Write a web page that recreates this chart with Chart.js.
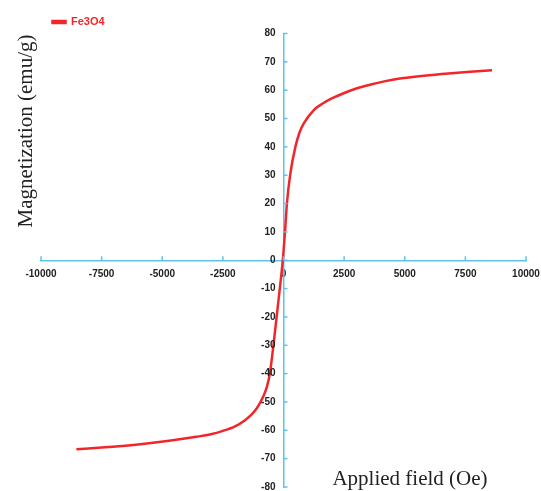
<!DOCTYPE html>
<html>
<head>
<meta charset="utf-8">
<script src="https://cdn.jsdelivr.net/npm/chart.js@4"></script>
<style>
  html, body { margin: 0; padding: 0; background: #ffffff; }
  #wrap { width: 541px; height: 491px; position: relative; }
</style>
</head>
<body>
<div id="wrap"><canvas id="c"></canvas></div>
<script>
const seriesName = 'Fe3O4';
const fieldOe = [-8540, -7500, -6000, -4720, -3600, -3000, -2500, -2000, -1600, -1390, -1100, -830, -680, -555, -420, -280, -150, -70, 0, 70, 140, 280, 490, 650, 830, 1250, 1600, 1950, 2500, 3000, 3600, 4200, 4800, 5800, 6800, 7700, 8600];
const magnetization = [-66.7, -66.1, -65.0, -63.7, -62.3, -61.4, -60.2, -58.6, -56.5, -55.0, -52.2, -48.0, -44.5, -39.6, -30.3, -19.7, -9.8, -3.5, 3.0, 11.0, 20.0, 30.5, 40.0, 44.8, 48.2, 53.0, 55.2, 56.9, 59.0, 60.6, 62.0, 63.2, 64.1, 65.1, 65.9, 66.5, 67.0];
const xTitle = 'Applied field (Oe)';
const yTitle = 'Magnetization (emu/g)';
const xMin = -10000, xMax = 10000, xStep = 2500;
const yMin = -80, yMax = 80, yStep = 10;

const axisColor = '#5cc3ee';
const lineColor = '#f2262a';
const tickFont = '"Liberation Sans", Arial, sans-serif';

const points = fieldOe.map((x, i) => ({x: x, y: magnetization[i]}));

function noPad(scale) {
  scale.paddingTop = 0; scale.paddingBottom = 0;
  scale.paddingLeft = 0; scale.paddingRight = 0;
}

const extras = {
  id: 'extras',
  afterLayout(chart) {
    if (chart.legend) {
      chart.legend.left += 10; chart.legend.right += 10;
      chart.legend.top += 4; chart.legend.bottom += 4;
    }
  },
  afterDraw(chart) {
    const ctx = chart.ctx;
    const xs = chart.scales.x, ys = chart.scales.y;
    const x0 = xs.getPixelForValue(0), y0 = ys.getPixelForValue(0);
    ctx.save();
    ctx.strokeStyle = axisColor;
    ctx.lineWidth = 1.5;
    xs.ticks.forEach(t => {
      const px = xs.getPixelForValue(t.value);
      ctx.beginPath(); ctx.moveTo(px, y0); ctx.lineTo(px, y0 - 4); ctx.stroke();
    });
    ys.ticks.forEach(t => {
      const py = ys.getPixelForValue(t.value);
      ctx.beginPath(); ctx.moveTo(x0, py); ctx.lineTo(x0 + 4, py); ctx.stroke();
    });
    // y tick labels, left of the centred axis
    ctx.fillStyle = '#222222';
    ctx.font = 'bold 10px ' + tickFont;
    ctx.textAlign = 'right';
    ctx.textBaseline = 'middle';
    ys.ticks.forEach(t => {
      const py = ys.getPixelForValue(t.value);
      ctx.fillText(String(t.value), x0 - 8, py);
    });
    // axis titles
    ctx.font = '21px "Liberation Serif", "Times New Roman", serif';
    ctx.textAlign = 'center';
    ctx.textBaseline = 'alphabetic';
    ctx.fillText(xTitle, 410, 485);
    ctx.translate(32, 131);
    ctx.rotate(-Math.PI / 2);
    ctx.fillText(yTitle, 0, 0);
    ctx.restore();
  }
};

new Chart(document.getElementById('c'), {
  type: 'line',
  data: {
    datasets: [{
      label: seriesName,
      data: points,
      borderColor: lineColor,
      backgroundColor: lineColor,
      borderWidth: 2.5,
      pointRadius: 0,
      fill: false,
      cubicInterpolationMode: 'monotone'
    }]
  },
  options: {
    responsive: true,
    maintainAspectRatio: false,
    animation: false,
    layout: { padding: { left: 41, right: 15, top: 11, bottom: 4 } },
    plugins: {
      legend: {
        display: true,
        position: 'top',
        align: 'start',
        labels: {
          boxWidth: 13,
          boxHeight: 2,
          padding: 1.5,
          color: lineColor,
          font: { family: tickFont, size: 11, weight: 'bold' }
        }
      },
      tooltip: { enabled: false }
    },
    scales: {
      x: {
        type: 'linear',
        position: { y: 0 },
        min: xMin, max: xMax,
        afterFit: noPad,
        ticks: {
          stepSize: xStep,
          padding: 8,
          maxRotation: 0,
          autoSkip: false,
          color: '#222222',
          callback: v => String(v),
          font: { family: tickFont, size: 10, weight: 'bold' }
        },
        grid: { drawOnChartArea: false, drawTicks: false },
        border: { display: true, color: axisColor, width: 1.5 }
      },
      y: {
        type: 'linear',
        position: { x: 0 },
        min: yMin, max: yMax,
        afterFit: noPad,
        ticks: {
          stepSize: yStep,
          display: false
        },
        grid: { drawOnChartArea: false, drawTicks: false },
        border: { display: true, color: axisColor, width: 1.5 }
      }
    }
  },
  plugins: [extras]
});
</script>
</body>
</html>
